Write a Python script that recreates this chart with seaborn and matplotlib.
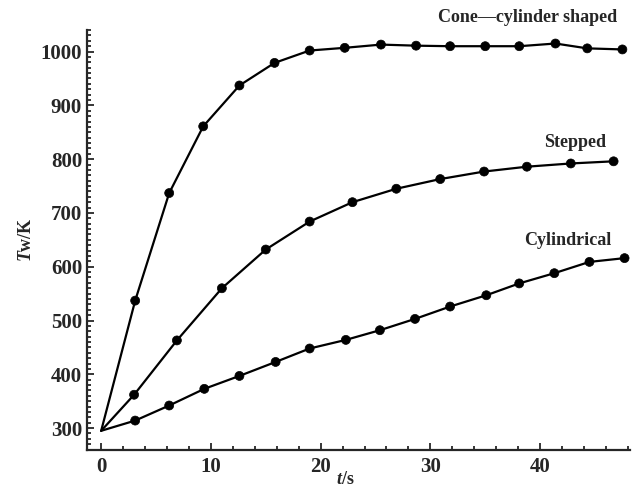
import numpy as np
import pandas as pd
import matplotlib
matplotlib.use("Agg")
import matplotlib.pyplot as plt
import seaborn as sns
from matplotlib.ticker import MultipleLocator

# values (t in s, Tw in K)
start_t = 0.0
start_T = 295

cone_t = [3.1, 6.2, 9.3, 12.6, 15.8, 19.0, 22.2, 25.5, 28.7, 31.8, 35.0, 38.1, 41.4, 44.3, 47.5]
cone_T = [537, 737, 861, 937, 979, 1002, 1007, 1013, 1011, 1010, 1010, 1010, 1015, 1006, 1004]

stepped_t = [3.0, 6.9, 11.0, 15.0, 19.0, 22.9, 26.9, 30.9, 34.9, 38.8, 42.8, 46.7]
stepped_T = [362, 463, 560, 632, 684, 720, 745, 763, 777, 786, 792, 796]

cyl_t = [3.1, 6.2, 9.4, 12.6, 15.9, 19.0, 22.3, 25.4, 28.6, 31.8, 35.1, 38.1, 41.3, 44.5, 47.7]
cyl_T = [314, 342, 373, 397, 423, 448, 464, 482, 503, 526, 547, 569, 588, 609, 616]

names = ["Cone\u2014cylinder shaped", "Stepped", "Cylindrical"]

frames = []
for name, ts, Ts in zip(names, [cone_t, stepped_t, cyl_t], [cone_T, stepped_T, cyl_T]):
    frames.append(pd.DataFrame({"t": [start_t] + ts, "T": [start_T] + Ts,
                                "shape": name, "marked": [False] + [True] * len(ts)}))
df = pd.concat(frames, ignore_index=True)

sns.set_style("ticks")
plt.rcParams["font.family"] = ["Liberation Serif", "DejaVu Serif"]
plt.rcParams["font.weight"] = "bold"
plt.rcParams["mathtext.fontset"] = "custom"
plt.rcParams["mathtext.it"] = "Liberation Serif:italic:bold"
plt.rcParams["mathtext.rm"] = "Liberation Serif:bold"

fig = plt.figure(figsize=(6.39, 4.93), dpi=100)
ax = fig.add_axes([0.136, 0.088, 0.850, 0.851])

black = {n: "black" for n in names}
sns.lineplot(data=df, x="t", y="T", hue="shape", palette=black, sort=False,
             estimator=None, linewidth=1.6, legend=False, ax=ax)
sns.scatterplot(data=df[df["marked"]], x="t", y="T", hue="shape", palette=black,
                s=42, edgecolor="black", linewidth=0.5, legend=False, ax=ax, zorder=3)

ax.set_xlim(-1.3, 48.2)
ax.set_ylim(260, 1040)
ax.xaxis.set_major_locator(MultipleLocator(10))
ax.xaxis.set_minor_locator(MultipleLocator(2))
ax.yaxis.set_major_locator(MultipleLocator(100))
ax.yaxis.set_minor_locator(MultipleLocator(10))
ax.tick_params(which="both", direction="in", width=1.3, labelsize=15)
ax.tick_params(which="major", length=5)
ax.tick_params(axis="x", which="major", pad=5)
ax.tick_params(which="minor", length=3)
for side in ["top", "right"]:
    ax.spines[side].set_visible(False)
for side in ["left", "bottom"]:
    ax.spines[side].set_linewidth(1.6)

ax.set_xlabel("$\\mathit{t}$/s", fontsize=13, fontweight="bold")
ax.xaxis.set_label_coords(0.475, -0.052)
ax.set_ylabel("$\\mathit{T}$w/K", fontsize=13, fontweight="bold", labelpad=4)

ax.text(47.0, 1063, names[0], fontsize=13, fontweight="bold", ha="right", va="center")
ax.text(43.2, 831, names[1], fontsize=13, fontweight="bold", ha="center", va="center")
ax.text(42.5, 648, names[2], fontsize=13, fontweight="bold", ha="center", va="center")

fig.savefig("out.png", dpi=100)
